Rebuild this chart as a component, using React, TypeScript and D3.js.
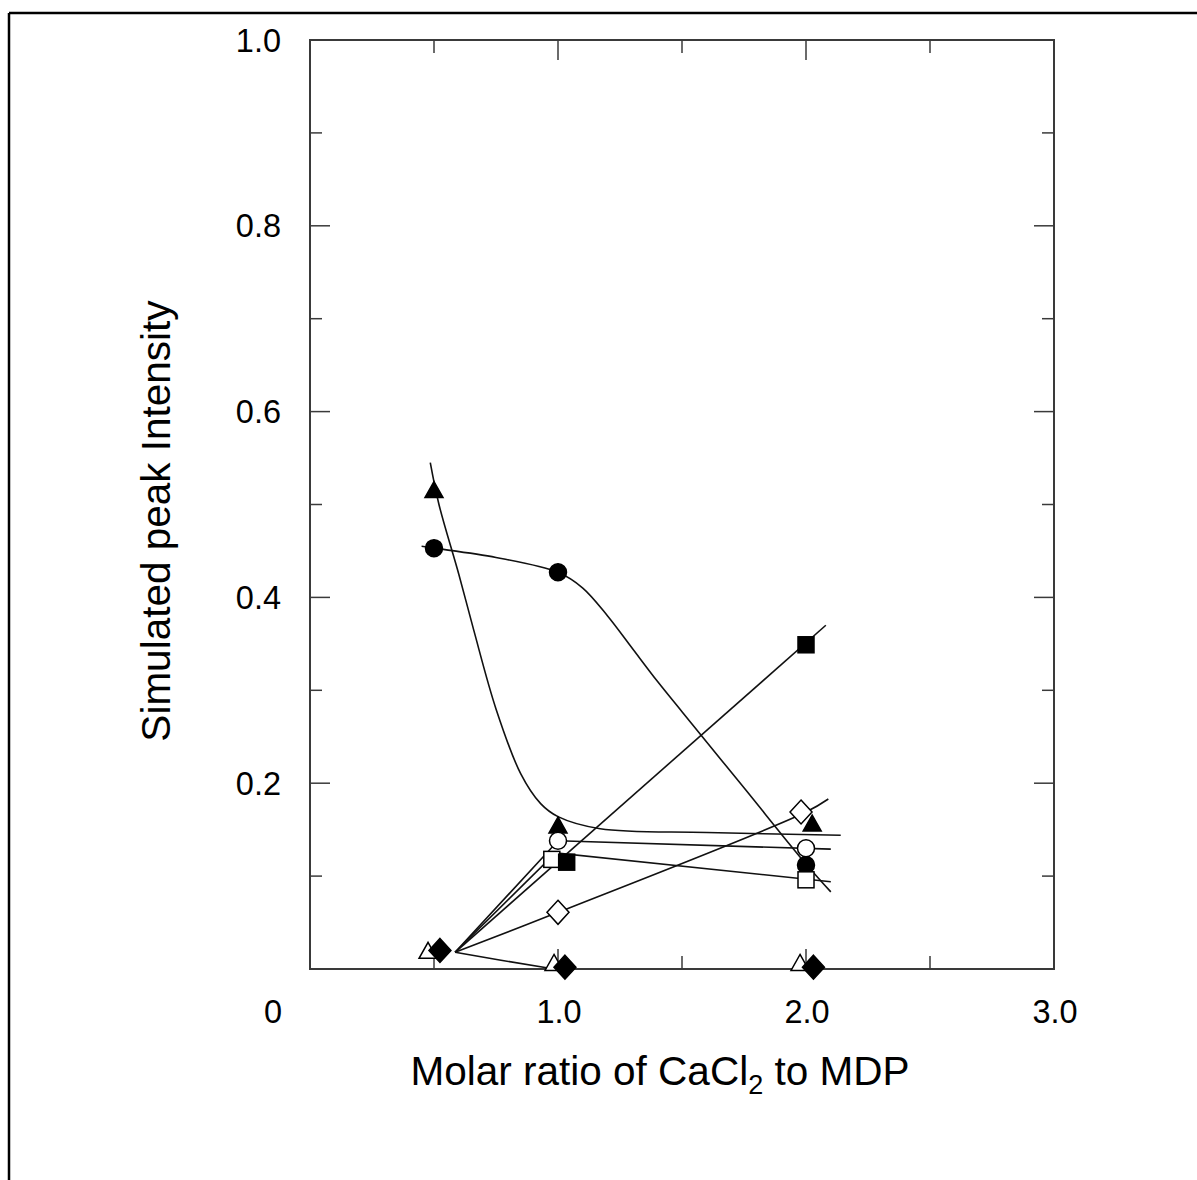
import React from "react";
import * as d3 from "d3";

// ---- data ----
const xMajorTicks = [0, 1, 2, 3];
const xMinorTicks = [0.5, 1.5, 2.5];
const yMajorTicks = [0, 0.2, 0.4, 0.6, 0.8, 1.0];
const yMinorTicks = [0.1, 0.3, 0.5, 0.7, 0.9];
const xTickLabels = ["0", "1.0", "2.0", "3.0"];
const yTickLabels = ["", "0.2", "0.4", "0.6", "0.8", "1.0"];

type P = [number, number];

// markers
const filledCircle: P[] = [[0.5, 0.453], [1.0, 0.427], [2.0, 0.112]];
const filledTriangle: P[] = [[0.5, 0.514], [1.0, 0.153], [2.025, 0.155]];
const openCircle: P[] = [[1.0, 0.138], [2.0, 0.13]];
const openSquare: P[] = [[0.975, 0.118], [2.0, 0.096]];
const filledSquare: P[] = [[1.035, 0.115], [2.0, 0.349]];
const openDiamond: P[] = [[1.0, 0.061], [1.98, 0.169]];
const openTriangle: P[] = [[0.476, 0.018], [0.984, 0.005], [1.976, 0.005]];
const filledDiamond: P[] = [[0.524, 0.02], [1.028, 0.002], [2.03, 0.002]];

// fitted curves
const circleCurve: P[] = [[0.45, 0.455], [0.5, 0.453], [0.75, 0.443], [1.0, 0.427], [1.1, 0.41], [1.2, 0.38], [1.3, 0.345], [1.4, 0.31], [1.5, 0.277], [1.75, 0.195], [2.0, 0.113], [2.1, 0.083]];
const triangleCurve: P[] = [[0.485, 0.545], [0.52, 0.5], [0.6, 0.425], [0.66, 0.365], [0.75, 0.28], [0.85, 0.21], [0.93, 0.178], [1.0, 0.164], [1.17, 0.151], [1.6, 0.147], [2.14, 0.144]];
const openCircleCurve: P[] = [[0.585, 0.018], [1.0, 0.138], [2.1, 0.129]];
const openSquareCurve: P[] = [[0.585, 0.018], [0.99, 0.125], [2.1, 0.094]];
const filledSquareCurve: P[] = [[0.585, 0.018], [2.08, 0.37]];
const openDiamondCurve: P[] = [[0.585, 0.018], [1.0, 0.061], [2.0, 0.169], [2.09, 0.183]];
const bottomCurve: P[] = [[0.585, 0.018], [0.77, 0.0095], [0.96, 0.001]];

const W = 1197;
const H = 1180;
const left = 310, right = 1054, top = 40, bottom = 969;

export default function App() {
  const x = d3.scaleLinear().domain([0, 3]).range([left, right]);
  const y = d3.scaleLinear().domain([0, 1]).range([bottom, top]);
  const lin = d3.line<P>().x((d) => x(d[0])).y((d) => y(d[1]));
  const smooth = d3.line<P>().x((d) => x(d[0])).y((d) => y(d[1])).curve(d3.curveCatmullRom.alpha(0.5));

  const font = "'Liberation Sans', Arial, Helvetica, sans-serif";
  const axisColor = "#3a3a3a";

  const tri = (cx: number, cy: number, fill: string, key: string) => {
    const w = 18, h = 16;
    const pts = [[cx, cy - h * 0.62], [cx + w / 2, cy + h * 0.38], [cx - w / 2, cy + h * 0.38]];
    return <polygon key={key} points={pts.map((p) => p.join(",")).join(" ")} fill={fill} stroke="#000" strokeWidth={1.5} />;
  };
  const diamond = (cx: number, cy: number, fill: string, key: string) => {
    const w = 11, h = 12;
    const pts = [[cx, cy - h], [cx + w, cy], [cx, cy + h], [cx - w, cy]];
    return <polygon key={key} points={pts.map((p) => p.join(",")).join(" ")} fill={fill} stroke="#000" strokeWidth={1.5} />;
  };
  const square = (cx: number, cy: number, fill: string, key: string) => (
    <rect key={key} x={cx - 8} y={cy - 8} width={16} height={16} fill={fill} stroke="#000" strokeWidth={1.5} />
  );
  const circle = (cx: number, cy: number, fill: string, key: string) => (
    <circle key={key} cx={cx} cy={cy} r={8.5} fill={fill} stroke="#000" strokeWidth={1.5} />
  );

  return (
    <svg width={W} height={H} style={{ position: "absolute", left: 0, top: 0, background: "#fff" }}>
      {/* outer frame */}
      <line x1={9} y1={13} x2={W} y2={13} stroke="#000" strokeWidth={2.5} />
      <line x1={9} y1={13} x2={9} y2={H} stroke="#000" strokeWidth={2.5} />

      {/* plot box */}
      <rect x={left} y={top} width={right - left} height={bottom - top} fill="none" stroke={axisColor} strokeWidth={2} />

      {/* ticks */}
      {yMajorTicks.map((t) => (
        <g key={"ym" + t}>
          <line x1={left} x2={left + 20} y1={y(t)} y2={y(t)} stroke={axisColor} strokeWidth={1.5} />
          <line x1={right} x2={right - 20} y1={y(t)} y2={y(t)} stroke={axisColor} strokeWidth={1.5} />
        </g>
      ))}
      {yMinorTicks.map((t) => (
        <g key={"yn" + t}>
          <line x1={left} x2={left + 12} y1={y(t)} y2={y(t)} stroke={axisColor} strokeWidth={1.5} />
          <line x1={right} x2={right - 12} y1={y(t)} y2={y(t)} stroke={axisColor} strokeWidth={1.5} />
        </g>
      ))}
      {xMajorTicks.map((t) => (
        <g key={"xm" + t}>
          <line x1={x(t)} x2={x(t)} y1={bottom} y2={bottom - 20} stroke={axisColor} strokeWidth={1.5} />
          <line x1={x(t)} x2={x(t)} y1={top} y2={top + 20} stroke={axisColor} strokeWidth={1.5} />
        </g>
      ))}
      {xMinorTicks.map((t) => (
        <g key={"xn" + t}>
          <line x1={x(t)} x2={x(t)} y1={bottom} y2={bottom - 13} stroke={axisColor} strokeWidth={1.5} />
          <line x1={x(t)} x2={x(t)} y1={top} y2={top + 13} stroke={axisColor} strokeWidth={1.5} />
        </g>
      ))}

      {/* tick labels */}
      {yMajorTicks.map((t, i) =>
        yTickLabels[i] ? (
          <text key={"yl" + t} x={281} y={y(t) + 11.5} textAnchor="end" fontFamily={font} fontSize={32.5} fill="#000">
            {yTickLabels[i]}
          </text>
        ) : null
      )}
      {xMajorTicks.map((t, i) => (
        <text
          key={"xl" + t}
          x={i === 0 ? 282 : x(t) + 1}
          y={1023}
          textAnchor={i === 0 ? "end" : "middle"}
          fontFamily={font}
          fontSize={32.5}
          fill="#000"
        >
          {xTickLabels[i]}
        </text>
      ))}

      {/* axis titles */}
      <text x={660} y={1085} textAnchor="middle" fontFamily={font} fontSize={40.5} fill="#000">
        Molar ratio of CaCl
        <tspan fontSize={27} dy={9}>2</tspan>
        <tspan dy={-9}> to MDP</tspan>
      </text>
      <text
        transform="translate(170,521) rotate(-90)"
        textAnchor="middle"
        fontFamily={font}
        fontSize={40.5}
        fill="#000"
      >
        Simulated peak Intensity
      </text>

      {/* curves */}
      <g fill="none" stroke="#111" strokeWidth={1.6}>
        <path d={smooth(circleCurve) || ""} />
        <path d={smooth(triangleCurve) || ""} />
        <path d={lin(openCircleCurve) || ""} />
        <path d={lin(openSquareCurve) || ""} />
        <path d={lin(filledSquareCurve) || ""} />
        <path d={smooth(openDiamondCurve) || ""} />
        <path d={lin(bottomCurve) || ""} />
      </g>

      {/* markers */}
      {filledCircle.map((d, i) => circle(x(d[0]), y(d[1]), "#000", "fc" + i))}
      {filledTriangle.map((d, i) => tri(x(d[0]), y(d[1]), "#000", "ft" + i))}
      {openSquare.map((d, i) => square(x(d[0]), y(d[1]), "#fff", "os" + i))}
      {openCircle.map((d, i) => circle(x(d[0]), y(d[1]), "#fff", "oc" + i))}
      {filledSquare.map((d, i) => square(x(d[0]), y(d[1]), "#000", "fs" + i))}
      {openDiamond.map((d, i) => diamond(x(d[0]), y(d[1]), "#fff", "od" + i))}
      {openTriangle.map((d, i) => tri(x(d[0]), y(d[1]), "#fff", "ot" + i))}
      {filledDiamond.map((d, i) => diamond(x(d[0]), y(d[1]), "#000", "fd" + i))}
    </svg>
  );
}
